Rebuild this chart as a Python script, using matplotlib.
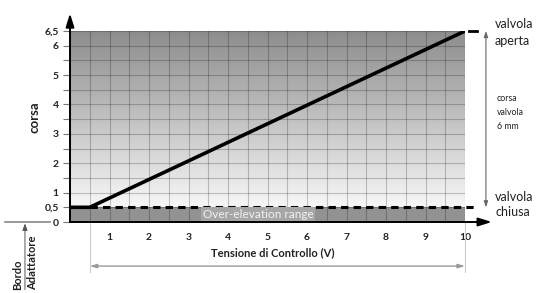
import numpy as np
import matplotlib
matplotlib.use("Agg")
import matplotlib.pyplot as plt
from matplotlib.colors import LinearSegmentedColormap

plt.rcParams['font.family'] = ['Lato', 'DejaVu Sans']

# dati
tensione = [0, 0.5, 10]          # V
corsa = [0.5, 0.5, 6.5]          # mm
x_ticks = [1, 2, 3, 4, 5, 6, 7, 8, 9, 10]
y_ticks = [0, 0.5, 1, 2, 3, 4, 5, 6, 6.5]
y_labels = ["0", "0,5", "1", "2", "3", "4", "5", "6", "6,5"]
corsa_min = 0.5
corsa_max = 6.5
x_max = 10

fig = plt.figure(figsize=(5.36, 2.93), dpi=100)
ax = fig.add_axes([70/536, 71/293, 395/536, 191/293])
ax.set_xlim(0, x_max)
ax.set_ylim(0, corsa_max)

# sfondo sfumato + fascia scura
grad = np.linspace(0, 1, 256).reshape(-1, 1)
cmap = LinearSegmentedColormap.from_list("g", ["#f7f7f7", "#8c8c8c"])
ax.imshow(grad, cmap=cmap, origin="lower", aspect="auto",
          extent=(0, x_max, corsa_min, corsa_max), zorder=0)
ax.axhspan(0, corsa_min, color="#929292", zorder=0.5, lw=0)

# griglia ogni 0,5
for gx in np.arange(0, x_max + 0.01, 0.5):
    ax.axvline(gx, color="black", alpha=0.22, lw=0.8, zorder=1)
for gy in np.arange(0, corsa_max + 0.01, 0.5):
    ax.axhline(gy, color="black", alpha=0.22, lw=0.8, zorder=1)

for s in ax.spines.values():
    s.set_visible(False)

ax.set_xticks(x_ticks)
ax.set_xticklabels([str(t) for t in x_ticks], fontsize=7.5, fontweight="bold", color="#222222")
ax.tick_params(axis="x", length=0, pad=8)
ax.set_yticks(np.arange(0, corsa_max + 0.01, 0.5), minor=True)
ax.set_yticks(y_ticks)
ax.set_yticklabels(y_labels, fontsize=7.5, fontweight="bold", color="#222222")
ax.tick_params(axis="y", which="both", length=5, color="#777777", pad=3, width=0.8)

# curva
ax.plot(tensione, corsa, color="black", lw=2.6, zorder=4, solid_capstyle="butt")
ax.plot([0.5, 10.33], [corsa_min, corsa_min], color="black", lw=2.2,
        dashes=(2.4, 1.7), zorder=3, clip_on=False)
ax.plot([10.1, 10.3], [corsa_max, corsa_max], color="black", lw=2.0,
        zorder=3, clip_on=False)

# assi con frecce
ax.annotate("", xy=(10.68, 0), xytext=(0, 0), annotation_clip=False,
            arrowprops=dict(arrowstyle="-|>,head_length=0.8,head_width=0.25",
                            color="black", lw=1.4, shrinkA=0, shrinkB=0), zorder=5)
ax.annotate("", xy=(0, 7.1), xytext=(0, 0), annotation_clip=False,
            arrowprops=dict(arrowstyle="-|>,head_length=0.8,head_width=0.25",
                            color="black", lw=1.4, shrinkA=0, shrinkB=0), zorder=5)

# riferimento bordo adattatore
ax.plot([-1.65, -0.5], [0, 0], color="#888888", lw=1.2, clip_on=False)
ax.annotate("", xy=(-1.14, -0.05), xytext=(-1.14, -2.3), annotation_clip=False,
            arrowprops=dict(arrowstyle="-|>,head_length=0.4,head_width=0.15",
                            color="#555555", lw=0.7, shrinkA=0, shrinkB=0))
ax.text(-1.33, -2.33, "Bordo", rotation=90, ha="center", va="bottom",
        fontsize=8, fontweight="bold", color="#222222")
ax.text(-0.95, -2.33, "Adattatore", rotation=90, ha="center", va="bottom",
        fontsize=8, fontweight="bold", color="#222222")

# campo di regolazione in basso
for vx in [0.5, 10]:
    ax.plot([vx, vx], [0, -1.7], color="#cccccc", lw=0.8, clip_on=False)
ax.annotate("", xy=(0.5, -1.5), xytext=(10, -1.5), annotation_clip=False,
            arrowprops=dict(arrowstyle="<|-|>,head_length=0.4,head_width=0.12",
                            color="#999999", lw=1.0, shrinkA=0, shrinkB=0))

# corsa valvola a destra
ax.annotate("", xy=(10.53, corsa_max), xytext=(10.53, corsa_min), annotation_clip=False,
            arrowprops=dict(arrowstyle="<|-|>,head_length=0.35,head_width=0.12",
                            color="#666666", lw=0.8, shrinkA=0, shrinkB=0))

# testi
ax.text(-0.89, 3.57, "corsa", rotation=90, ha="center", va="center",
        fontsize=9.5, fontweight="bold", color="#222222")
ax.text(5.14, -1.06, "Tensione di Controllo (V)", ha="center", va="center",
        fontsize=8, fontweight="bold", color="#222222")
ax.text(4.76, 0.27, "Over-elevation range", ha="center", va="center",
        fontsize=8.5, color="#f2f2f2", zorder=6,
        bbox=dict(boxstyle="square,pad=0.15", fc="#a6a6a6", ec="none"))
ax.text(10.76, 6.45, "valvola\naperta", ha="left", va="center",
        fontsize=9, linespacing=1.45, color="#222222")
ax.text(10.81, 3.74, "corsa\nvalvola\n6 mm", ha="left", va="center",
        fontsize=6.3, linespacing=1.7, color="#222222")
ax.text(10.76, 0.61, "valvola\nchiusa", ha="left", va="center",
        fontsize=9, linespacing=1.3, color="#222222")

fig.savefig("out.png", dpi=100)
